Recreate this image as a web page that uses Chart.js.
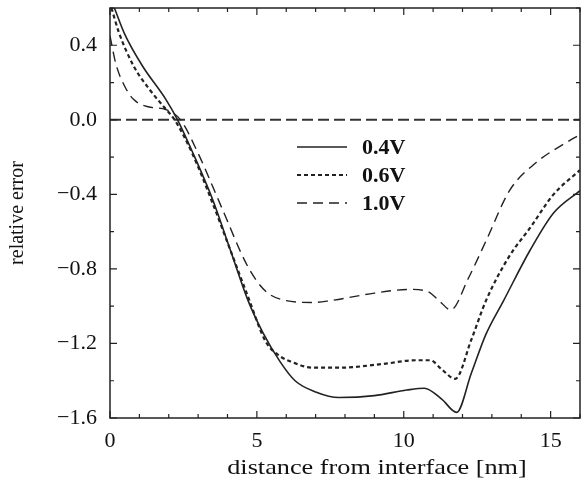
<!DOCTYPE html>
<html>
<head>
<meta charset="utf-8">
<script src="https://cdn.jsdelivr.net/npm/chart.js@4"></script>
<style>
  html, body { margin: 0; padding: 0; background: #fff; }
  canvas { display: block; }
</style>
</head>
<body>
<canvas id="errChart" width="581" height="488"></canvas>
<script>
// data
const x04 = [0.15, 0.5, 1.1, 1.9, 2.3, 2.8, 3.5, 4.1, 4.7, 5.2, 5.8, 6.3, 7.0, 7.8, 9.0, 10.1, 10.7, 11.3, 11.8, 12.3, 12.8, 13.4, 14.3, 15.1, 16.0];
const y04 = [0.6, 0.46, 0.29, 0.11, 0.0, -0.17, -0.43, -0.70, -0.97, -1.14, -1.30, -1.40, -1.46, -1.49, -1.48, -1.45, -1.44, -1.50, -1.57, -1.36, -1.15, -0.97, -0.70, -0.50, -0.38];

const x06 = [0.05, 0.3, 0.8, 1.36, 1.94, 2.2, 2.8, 3.5, 4.1, 4.7, 5.3, 5.8, 6.2, 6.9, 7.8, 9.3, 10.4, 10.9, 11.3, 11.75, 12.3, 12.8, 13.6, 14.3, 15.1, 16.0];
const y06 = [0.6, 0.47, 0.29, 0.16, 0.05, 0.0, -0.18, -0.45, -0.70, -0.95, -1.19, -1.27, -1.30, -1.33, -1.33, -1.31, -1.29, -1.29, -1.34, -1.39, -1.18, -0.97, -0.73, -0.58, -0.40, -0.27];

const x10 = [0.0, 0.2, 0.5, 0.8, 1.3, 1.9, 2.4, 3.0, 3.8, 4.7, 5.3, 6.0, 6.9, 7.5, 9.0, 10.2, 10.8, 11.2, 11.6, 12.2, 12.8, 13.6, 14.5, 15.5, 16.0];
const y10 = [0.45, 0.3, 0.18, 0.11, 0.07, 0.055, 0.0, -0.18, -0.47, -0.79, -0.92, -0.97, -0.98, -0.97, -0.93, -0.91, -0.92, -0.97, -1.02, -0.85, -0.65, -0.38, -0.23, -0.125, -0.08];

const zeroX = [0, 16];
const zeroY = [0, 0];

const seriesNames = ['0.4V', '0.6V', '1.0V'];

const xTicks = [0, 5, 10, 15];
const xMinor = [1, 2, 3, 4, 6, 7, 8, 9, 11, 12, 13, 14, 16];
const yTicks = [-1.6, -1.2, -0.8, -0.4, 0.0, 0.4];
const yMinor = [-1.4, -1.0, -0.6, -0.2, 0.2, 0.6];

const ink = '#222';
const serif = "'Liberation Serif', 'DejaVu Serif', serif";

function pts(xs, ys) {
  return xs.map((x, i) => ({ x: x, y: ys[i] }));
}

const lineStyles = [
  { borderWidth: 1.6, borderDash: [] },
  { borderWidth: 2.2, borderDash: [4, 3] },
  { borderWidth: 1.4, borderDash: [10, 6] }
];

// frame, inward ticks, legend, x title
const framePlugin = {
  id: 'framePlugin',
  afterDatasetsDraw(chart) {
    const ctx = chart.ctx;
    const a = chart.chartArea;
    const xs = chart.scales.x;
    const ys = chart.scales.y;
    ctx.save();
    ctx.strokeStyle = ink;
    ctx.lineWidth = 1.5;
    ctx.setLineDash([]);
    ctx.strokeRect(a.left, a.top, a.right - a.left, a.bottom - a.top);

    ctx.lineWidth = 1.2;
    const tickX = (v, len) => {
      const p = xs.getPixelForValue(v);
      ctx.beginPath();
      ctx.moveTo(p, a.bottom); ctx.lineTo(p, a.bottom - len);
      ctx.moveTo(p, a.top); ctx.lineTo(p, a.top + len);
      ctx.stroke();
    };
    const tickY = (v, len) => {
      const p = ys.getPixelForValue(v);
      ctx.beginPath();
      ctx.moveTo(a.left, p); ctx.lineTo(a.left + len, p);
      ctx.moveTo(a.right, p); ctx.lineTo(a.right - len, p);
      ctx.stroke();
    };
    xTicks.forEach(v => tickX(v, 7));
    xMinor.forEach(v => tickX(v, 4));
    yTicks.forEach(v => tickY(v, 7));
    yMinor.forEach(v => tickY(v, 4));

    // legend
    const lx = 297, tx = 362;
    const rows = [147, 175, 203];
    ctx.font = "bold 22px " + serif;
    ctx.fillStyle = '#111';
    ctx.textBaseline = 'middle';
    seriesNames.forEach((name, i) => {
      const st = lineStyles[i];
      ctx.lineWidth = st.borderWidth;
      ctx.setLineDash(st.borderDash);
      ctx.beginPath();
      ctx.moveTo(lx, rows[i]);
      ctx.lineTo(lx + 50, rows[i]);
      ctx.stroke();
      ctx.fillText(name, tx, rows[i] + 1);
    });

    // x axis title (the scan is a little stretched sideways)
    ctx.setLineDash([]);
    ctx.font = "21px " + serif;
    ctx.textAlign = 'center';
    ctx.textBaseline = 'middle';
    ctx.translate(377, 468);
    ctx.scale(1.25, 1);
    ctx.fillText('distance from interface [nm]', 0, 0);
    ctx.restore();
  }
};

const ctxErr = document.getElementById('errChart').getContext('2d');

new Chart(ctxErr, {
  type: 'line',
  data: {
    datasets: [
      {
        label: seriesNames[0],
        data: pts(x04, y04),
        borderColor: ink,
        borderWidth: lineStyles[0].borderWidth,
        borderDash: lineStyles[0].borderDash,
        pointRadius: 0,
        cubicInterpolationMode: 'monotone'
      },
      {
        label: seriesNames[1],
        data: pts(x06, y06),
        borderColor: ink,
        borderWidth: lineStyles[1].borderWidth,
        borderDash: lineStyles[1].borderDash,
        pointRadius: 0,
        cubicInterpolationMode: 'monotone'
      },
      {
        label: seriesNames[2],
        data: pts(x10, y10),
        borderColor: ink,
        borderWidth: lineStyles[2].borderWidth,
        borderDash: lineStyles[2].borderDash,
        pointRadius: 0,
        cubicInterpolationMode: 'monotone'
      },
      {
        label: 'zero',
        data: pts(zeroX, zeroY),
        borderColor: '#333',
        borderWidth: 2,
        borderDash: [11, 5],
        pointRadius: 0
      }
    ]
  },
  options: {
    responsive: false,
    animation: false,
    devicePixelRatio: 1,
    layout: { padding: { top: 8, right: 1, left: 0, bottom: 0 } },
    plugins: {
      legend: { display: false },
      tooltip: { enabled: false }
    },
    scales: {
      x: {
        type: 'linear',
        min: 0,
        max: 16,
        afterBuildTicks: s => { s.ticks = xTicks.map(v => ({ value: v })); },
        afterFit: s => { s.height = 70; s.paddingLeft = 0; s.paddingRight = 0; },
        grid: { display: false, drawTicks: false },
        border: { display: false },
        ticks: {
          color: '#111',
          padding: 10,
          maxRotation: 0,
          font: { family: serif, size: 22 },
          callback: v => String(v)
        }
      },
      y: {
        type: 'linear',
        min: -1.6,
        max: 0.6,
        afterBuildTicks: s => { s.ticks = yTicks.map(v => ({ value: v })); },
        afterFit: s => { s.width = 110; s.paddingTop = 0; s.paddingBottom = 0; },
        grid: { display: false, drawTicks: false },
        border: { display: false },
        title: {
          display: true,
          text: 'relative error',
          color: '#111',
          font: { family: serif, size: 20 },
          padding: { top: 6, bottom: 0 }
        },
        ticks: {
          color: '#111',
          padding: 13,
          font: { family: serif, size: 22 },
          callback: v => (v < 0 ? '\u2212' : '') + Math.abs(v).toFixed(1)
        }
      }
    }
  },
  plugins: [framePlugin]
});
</script>
</body>
</html>
